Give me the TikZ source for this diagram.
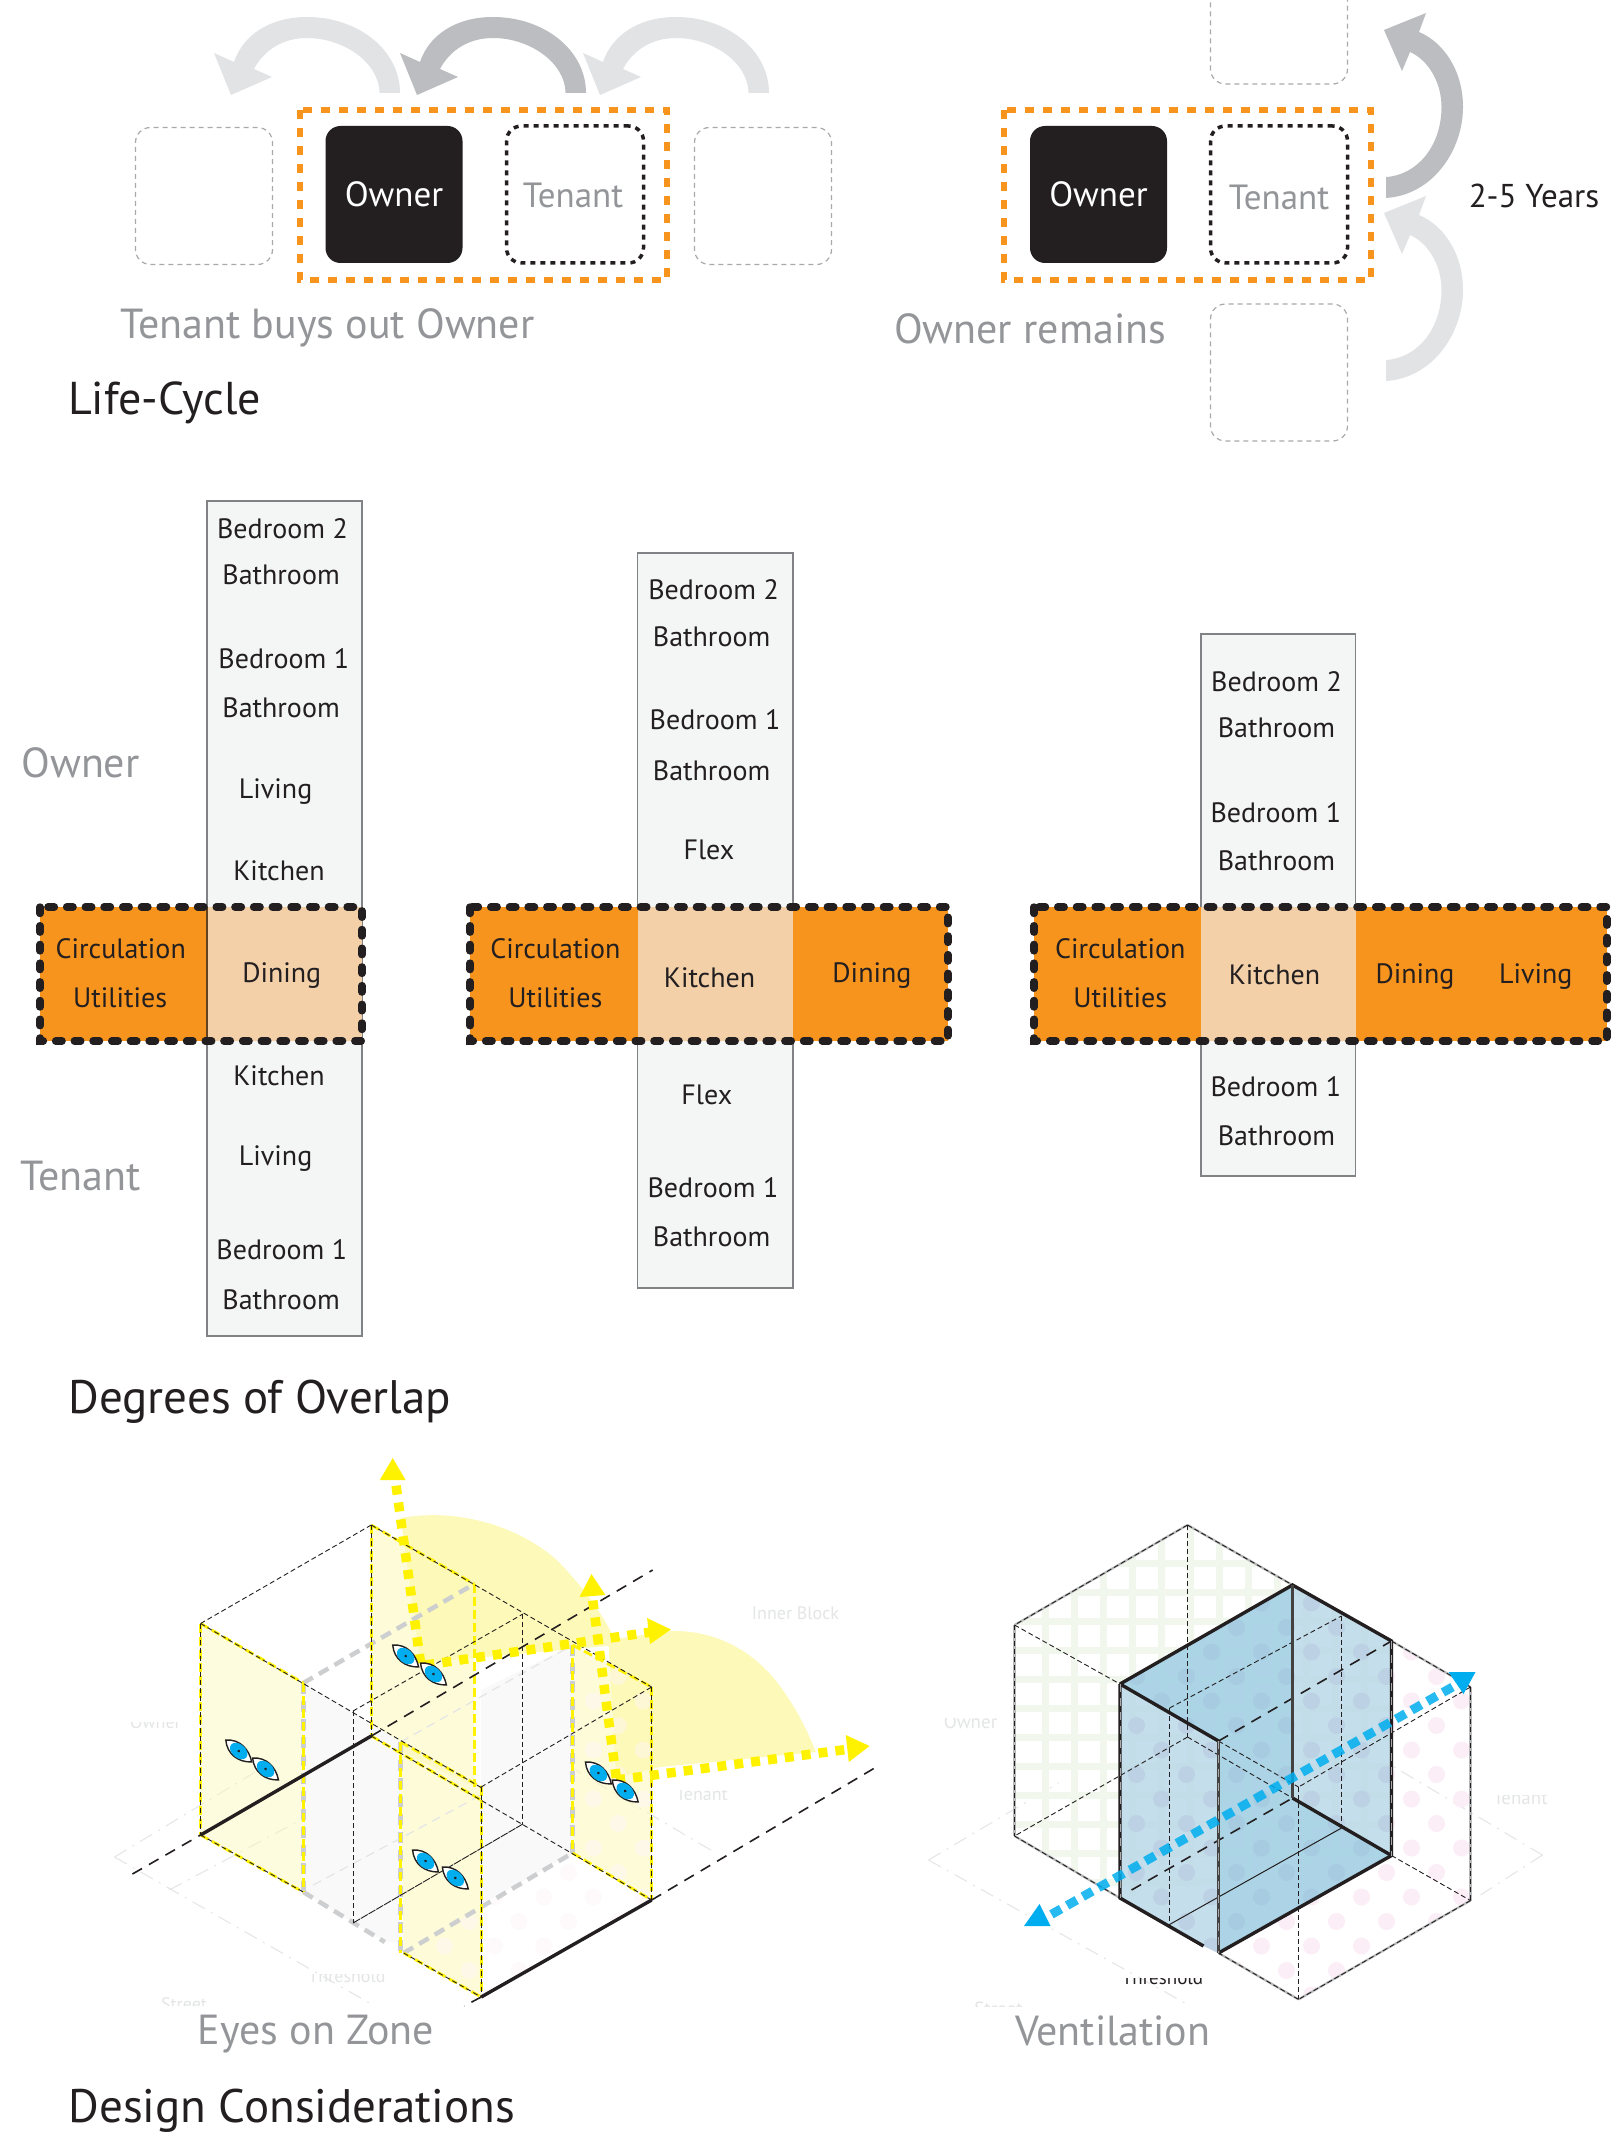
\documentclass[tikz,border=0pt]{standalone}
\usepackage{fontspec}
\setmainfont{PT Sans}
\usetikzlibrary{arrows.meta}
\definecolor{ink}{HTML}{231F20}
\definecolor{midgrey}{HTML}{939598}
\definecolor{ghost}{HTML}{A7A9AC}
\definecolor{orangeA}{HTML}{F7941D}
\definecolor{peach}{HTML}{F3D0A8}
\definecolor{colfill}{HTML}{F4F6F6}
\definecolor{colline}{HTML}{808285}
\definecolor{archA}{HTML}{E2E3E5}
\definecolor{archB}{HTML}{BBBDC0}
\definecolor{viewY}{HTML}{FFF200}
\definecolor{fanY}{HTML}{FDF9B8}
\definecolor{skyB}{HTML}{00AEEF}
\definecolor{gridG}{HTML}{F2F7EE}
\definecolor{dotP}{HTML}{FBEEF6}
\definecolor{dotV}{HTML}{8A8FC0}
\definecolor{blueL}{HTML}{BBD9E8}
\definecolor{blueD}{HTML}{A6D2E5}
\definecolor{wallG}{HTML}{F9F9FA}
\definecolor{faint}{HTML}{E4E5E6}
\newcommand{\fs}[1]{\fontsize{#1}{#1}\selectfont}
\tikzset{
  x=1pt,y=-1pt,
  ownerbox/.style={fill=ink,text=white,rounded corners=15pt,minimum width=137pt,minimum height=137pt,inner sep=0pt,font=\fs{35}},
  tenantbox/.style={draw=ink,line width=3.5pt,dash pattern=on 5pt off 5pt,rounded corners=15pt,text=midgrey,minimum width=137pt,minimum height=137pt,inner sep=0pt,font=\fs{35}},
  ghostbox/.style={draw=ghost,line width=1.2pt,dash pattern=on 5pt off 4pt,rounded corners=15pt,minimum width=137pt,minimum height=137pt,inner sep=0pt},
  orangebox/.style={draw=orangeA,line width=5.2pt,dash pattern=on 9pt off 9pt},
  bandline/.style={draw=ink,line width=7.4pt,line cap=round,dash pattern=on 6.5pt off 12.2pt},
  colbox/.style={fill=colfill,draw=colline,line width=1.6pt},
  room/.style={text=ink,font=\fs{28},inner sep=0pt},
  big/.style={text=midgrey,font=\fs{42},inner sep=0pt},
  head/.style={text=ink,font=\fs{47},inner sep=0pt},
  weak/.style={text=faint,font=\fs{18},inner sep=0pt},
  thin/.style={draw=ink,line width=.9pt,dash pattern=on 5pt off 3pt},
  ydash/.style={draw=viewY,line width=2.8pt,dash pattern=on 9pt off 4pt},
  gdash/.style={draw=faint!90!black,line width=4.5pt,dash pattern=on 11pt off 7pt},
  lgdash/.style={draw=faint,line width=1.2pt,dash pattern=on 9pt off 6pt},
  ldash/.style={draw=ink,line width=1.6pt,dash pattern=on 11pt off 8pt},
  ground/.style={draw=faint,line width=1pt,dash pattern=on 14pt off 7pt on 2pt off 7pt},
  thick3/.style={draw=ink,line width=3.4pt},
  sight/.style={draw=viewY,line width=9.5pt,dash pattern=on 9pt off 8pt},
  vent/.style={draw=skyB,line width=9pt,dash pattern=on 11pt off 7pt},
  ghostedge/.style={draw=faint!80!black,line width=2.2pt},
  inlay/.style={draw=ghost,line width=1pt,dash pattern=on 8pt off 6pt},
}
\newcommand{\archarrow}[2]{%
  \fill[#1,xshift=#2pt] (402,93) .. controls (402,50) and (360,17) .. (309,17) .. controls (272,17) and (245,35) .. (236,62) -- (216,53) -- (233,95) -- (274,77) -- (256,69) .. controls (266,50) and (285,38) .. (309,38) .. controls (345,38) and (381,62) .. (381.6,93) -- cycle;}
\newcommand{\uparrowshape}[2]{%
  \fill[#1,yshift=-#2pt,xshift=-2pt] (1388,198) .. controls (1435,195) and (1465,150) .. (1465,107) .. controls (1465,70) and (1445,42) .. (1421,32) -- (1428,13) -- (1386,30) -- (1404,71) -- (1412,52) .. controls (1430,60) and (1443.5,82) .. (1443.5,107) .. controls (1443.5,145) and (1420,175) .. (1388,177) -- cycle;}
\newcommand{\eyeat}[2]{%
  \begin{scope}[shift={(#1,#2)},rotate=-40]
    \filldraw[fill=white,draw=ink,line width=1.4pt] (-17,0) .. controls (-7,-10) and (7,-8) .. (17,0) .. controls (7,9) and (-7,10) .. (-17,0) -- cycle;
    \fill[skyB] (0,0) ellipse (10 and 6.8);
    \fill[ink] (0,0) circle (1.5);
  \end{scope}}
\newcommand{\dotfield}[2]{%
  \foreach \i in {0,...,13}{
    \pgfmathsetmacro{\cx}{1138+25*\i+#1}
    \pgfmathsetmacro{\cy}{1701-24.5*mod(\i+1,2)}
    \foreach \k in {-4,...,6}{ \fill[#2] (\cx,\cy+49*\k) circle (8.5); }
  }}
\begin{document}
\begin{tikzpicture}
\useasboundingbox (0,0) rectangle (1621,2140);
\clip (0,0) rectangle (1621,2140);
\fill[white] (0,0) rectangle (1621,2140);

% ---------- Life-cycle
\archarrow{archA}{-2}
\archarrow{archB}{184}
\archarrow{archA}{367}
\uparrowshape{archB}{0}
\uparrowshape{archA}{183}
\node[ghostbox] (g1) at (204,196) {};
\node[ghostbox] (g2) at (763,196) {};
\draw[orangebox] (300,110) rectangle (667,280);
\node[ownerbox] (own1) at (394,194.5) {Owner};
\node[tenantbox] (ten1) at (575,194.5) {};
\node[text=midgrey,font=\fs{35},inner sep=0pt] (tt1) at (573,195) {Tenant};
\node[ghostbox] (g3) at (1279,15.5) {};
\node[ghostbox] (g4) at (1279,372.5) {};
\draw[orangebox] (1004,110) rectangle (1371,280);
\node[ownerbox] (own2) at (1098.5,194.5) {Owner};
\node[tenantbox] (ten2) at (1279,194.5) {};
\node[text=midgrey,font=\fs{35},inner sep=0pt] (tt2) at (1279,197) {Tenant};
\node[text=ink,font=\fs{33},inner sep=0pt] (yrs) at (1534,196) {2-5 Years};
\node[big] (buy) at (327.5,328) {Tenant buys out Owner};
\node[big] (rem) at (1030,329) {Owner remains};
\node[head,anchor=west,font=\fs{46}] (lc) at (68,403) {Life-Cycle};

% ---------- Degrees of overlap: bands
\draw[colbox] (207,501) rectangle (362,1336);
\draw[colbox] (637.5,553) rectangle (793,1288);
\draw[colbox] (1201,634) rectangle (1355.5,1176);
\fill[orangeA] (40,907) rectangle (207,1041);
\fill[peach] (207,907) rectangle (362,1041);
\draw[ink!70!orangeA,line width=1.4pt] (207,907) -- (207,1041);
\fill[orangeA] (470,907) rectangle (948,1041);
\fill[peach] (637.5,907) rectangle (793,1041);
\fill[orangeA] (1034,907) rectangle (1607,1041);
\fill[peach] (1201,907) rectangle (1355.5,1041);
\draw[bandline] (40,907) rectangle (362,1041);
\draw[bandline] (470,907) rectangle (948,1041);
\draw[bandline] (1034,907) rectangle (1607,1041);

\begin{scope}[x=1.3645pt,y=-1.3645pt]
\node[room] (a1) at (207,387.5) {Bedroom 2};
\node[room] (a2) at (206,421) {Bathroom};
\node[room] (a3) at (208,483) {Bedroom 1};
\node[room] (a4) at (206,518.5) {Bathroom};
\node[room] (a5) at (202,580) {Living};
\node[room] (a6) at (204.5,638.5) {Kitchen};
\node[room] (a7) at (88.5,695) {Circulation};
\node[room] (a8) at (88,731.5) {Utilities};
\node[room] (a9) at (206.5,715) {Dining};
\node[room] (a10) at (204.5,788.5) {Kitchen};
\node[room] (a11) at (202,849) {Living};
\node[room] (a12) at (206.5,915.5) {Bedroom 1};
\node[room] (a13) at (206,952.5) {Bathroom};
\node[big] (ownl) at (59,559) {Owner};
\node[big] (tenl) at (59,862) {Tenant};
\node[room] (b1) at (523,432.5) {Bedroom 2};
\node[room] (b2) at (521.5,467) {Bathroom};
\node[room] (b3) at (524,527.5) {Bedroom 1};
\node[room] (b4) at (521.5,564.5) {Bathroom};
\node[room] (b5) at (519.5,622.5) {Flex};
\node[room] (b6) at (407,695) {Circulation};
\node[room] (b7) at (407,731.5) {Utilities};
\node[room] (b8) at (520,716.5) {Kitchen};
\node[room] (b9) at (639,715) {Dining};
\node[room] (b10) at (518,802.5) {Flex};
\node[room] (b11) at (522.5,870.5) {Bedroom 1};
\node[room] (b12) at (521.5,906.5) {Bathroom};
\node[room] (c1) at (935.5,499.5) {Bedroom 2};
\node[room] (c2) at (935.5,533.5) {Bathroom};
\node[room] (c3) at (935,595.5) {Bedroom 1};
\node[room] (c4) at (935.5,630.5) {Bathroom};
\node[room] (c5) at (821,695) {Circulation};
\node[room] (c6) at (821,731.5) {Utilities};
\node[room] (c7) at (934,714.5) {Kitchen};
\node[room] (c8) at (1037,716) {Dining};
\node[room] (c9) at (1125.5,716) {Living};
\node[room] (c10) at (935,796.5) {Bedroom 1};
\node[room] (c11) at (935.5,832.5) {Bathroom};
\node[head,anchor=west] (dg) at (50,1027) {Degrees of Overlap};
\node[big] (ez) at (231.5,1491) {Eyes on Zone};
\node[big] (ve) at (815.5,1488) {Ventilation};
\node[head,anchor=west] (dc) at (50,1547) {Design Considerations};
\end{scope}

% ---------- Eyes on Zone: faint labels, each cut as in the reference
\begin{scope}\clip (100,1722) rectangle (200,1760);\node[weak] (w1) at (155.5,1722) {Owner};\end{scope}
\node[weak] (w2) at (795.5,1613) {Inner Block};
\begin{scope}\clip (660,1790) rectangle (760,1830);\node[weak] (w3) at (702,1794) {Tenant};\end{scope}
\begin{scope}\clip (290,1974) rectangle (400,2010);\node[weak] (w4) at (347,1976) {Threshold};\end{scope}
\begin{scope}\clip (140,1990) rectangle (220,2005);\node[weak] (w5) at (184,2004) {Street};\end{scope}

\begin{scope}[xshift=.3pt,xscale=.9935]
\draw[ground] (115,1857) -- (375,2005);
\draw[ground] (115,1857) -- (260,1770);
\draw[ground] (715,1850) -- (485,1715);
\draw[ground] (170,1890) -- (340,1800);
% view fans
\fill[fanY] (423,1663) -- (403,1518) .. controls (459,1508) and (520,1525) .. (560,1560) .. controls (590,1590) and (610,1620) .. (621,1645) -- cycle;
\fill[fanY] (620,1778) -- (612,1640) -- (674,1631) .. controls (720,1630) and (755,1650) .. (780,1680) .. controls (800,1705) and (812,1730) .. (821,1752) -- (664,1767) -- cycle;
% walls
\fill[fanY,opacity=.45] (201.6,1623.5) -- (305,1683) -- (305,1892) -- (201.6,1835) -- cycle;
\fill[fanY,opacity=.55] (373.4,1525) -- (477,1584) -- (477,1787) -- (373.4,1736) -- cycle;
\fill[wallG] (305,1683) -- (403,1742) -- (403,1942) -- (387,1942) -- (305,1892) -- cycle;
\fill[wallG] (484,1690) -- (576,1645) -- (576,1853) -- (484,1905) -- cycle;
\fill[fanY,opacity=.55] (403,1742) -- (484,1787) -- (484,1997) -- (406,1953) -- cycle;
\fill[fanY,opacity=.55] (576,1645) -- (655.6,1687) -- (655.6,1900) -- (576,1853) -- cycle;
\begin{scope}
 \clip (576,1645) -- (655.6,1687) -- (655.6,1900) -- (484,1997) -- (406,1953) -- (576,1853) -- cycle;
 \dotfield{-816}{dotP!60!white,fill opacity=.45}
\end{scope}
% grey heavy dashes
\draw[gdash] (305,1683) -- (477,1584);
\draw[gdash] (406,1953) -- (576,1853);
\draw[gdash] (305,1892) -- (387,1942);
\draw[gdash] (305,1683) -- (305,1892);
\draw[gdash] (576,1645) -- (576,1853);
\draw[gdash] (403,1742) -- (403,1953);
\draw[lgdash] (403,1742) -- (576,1645);
\draw[lgdash] (315,1885) -- (484,1795);
% yellow wall edges
\draw[ydash] (201.6,1623.5) -- (201.6,1835);
\draw[ydash] (305,1683) -- (305,1892);
\draw[ydash] (373.4,1525) -- (373.4,1736);
\draw[ydash] (477,1584) -- (477,1787);
\draw[ydash] (403,1742) -- (403,1953);
\draw[ydash] (484,1787) -- (484,1997);
\draw[ydash] (576,1645) -- (576,1853);
\draw[ydash] (655.6,1687) -- (655.6,1900);
\draw[ydash] (201.6,1623.5) -- (305,1683);
\draw[ydash] (201.6,1835) -- (305,1892);
\draw[ydash] (373.4,1525) -- (477,1584);
\draw[ydash] (576,1645) -- (655.6,1687);
\draw[ydash] (373.4,1736) -- (484,1800);
\draw[ydash] (403,1742) -- (484,1787);
\draw[ydash] (406,1953) -- (484,1997);
\draw[ydash] (576,1853) -- (655.6,1900);
% thin black
\draw[thin] (373.4,1525) -- (201.6,1623.5);
\draw[thin] (373.4,1525) -- (655.6,1687);
\draw[thin] (201.6,1623.5) -- (484,1787.5);
\draw[thin] (484,1787) -- (655.6,1687);
\draw[thin] (355,1711) -- (526,1614);
\draw[thin] (201.6,1623.5) -- (201.6,1835);
\draw[thin] (373.4,1525) -- (373.4,1736);
\draw[thin] (355,1711) -- (355,1923);
\draw[thin] (526,1614) -- (526,1824);
\draw[thin] (484,1787) -- (484,1997);
\draw[thin] (655.6,1687) -- (655.6,1900);
\draw[thin] (373.4,1736) -- (655.6,1900);
\draw[thin] (201.6,1835) -- (305,1892);
\draw[thin] (406,1953) -- (484,1997);
\draw[thin,dash pattern=on 8pt off 1pt] (355,1923) -- (526,1824);
\draw[ldash] (133,1874) -- (201.6,1835);
\draw[ldash] (373.4,1736) -- (656.6,1570);
\draw[ldash] (655.6,1900) -- (880,1768);
\draw[ldash] (484,1997) -- (467,2006);
\draw[thick3] (201.6,1835) -- (373.4,1736);
\draw[thick3] (484,1997) -- (655.6,1900);
% sight lines
\draw[sight] (423,1663) -- (398,1483);
\fill[viewY] (395,1458) -- (382,1480) -- (408,1480) -- cycle;
\draw[sight] (428,1665) -- (655,1632);
\fill[viewY] (675,1629.5) -- (651,1618) -- (654,1644) -- cycle;
\draw[sight] (620,1778) -- (596,1598);
\fill[viewY] (595,1574) -- (583,1597) -- (609,1595) -- cycle;
\draw[sight] (620,1780) -- (855,1749);
\fill[viewY] (875,1746) -- (851,1735) -- (854,1762) -- cycle;
% eyes
\eyeat{408}{1656}\eyeat{436}{1674}
\eyeat{240}{1751}\eyeat{267}{1769}
\eyeat{428}{1861}\eyeat{458}{1878}
\eyeat{602}{1773}\eyeat{629}{1791}
\end{scope}

% ---------- Ventilation
\begin{scope}[xshift=-1.5pt]
\draw[ground] (930,1860) -- (1190,2005);
\draw[ground] (930,1860) -- (1060,1783);
\draw[ground] (1544,1855) -- (1394,1766);
\draw[ground] (1544,1855) -- (1482,1895);
\begin{scope}\clip (930,1718) rectangle (1010,1760);\node[weak,font=\fs{19}] (v1) at (972,1722) {Owner};\end{scope}
\begin{scope}\clip (1480,1795) rectangle (1570,1830);\node[weak,font=\fs{19}] (v2) at (1522,1798) {Tenant};\end{scope}
\begin{scope}\clip (1100,1978) rectangle (1230,2010);\node[text=ink,font=\fs{19},inner sep=0pt] (v3) at (1164,1978) {Threshold};\end{scope}
\begin{scope}\clip (960,1995) rectangle (1040,2006);\node[weak,font=\fs{19}] (v4) at (1000,2009) {Street};\end{scope}
% grid
\begin{scope}
 \clip (1189,1525) -- (1393,1641) -- (1393,1855) -- (1121.5,1898) -- (1016,1836) -- (1016,1625) -- cycle;
 \foreach \gx in {0,...,12}{ \fill[gridG] (1043+29*\gx,1500) rectangle (1050.5+29*\gx,1900); }
 \foreach \gy in {0,...,11}{ \fill[gridG] (1000,1560+29*\gy) rectangle (1420,1567+29*\gy); }
\end{scope}
% dots
\begin{scope}
 \clip (1294,1585) -- (1472,1687) -- (1472,1900.5) -- (1300,1999.4) -- (1121.5,1898) -- (1121.5,1684) -- cycle;
 \dotfield{0}{dotP}
\end{scope}
% blue volume
\fill[blueL,opacity=.85] (1121.5,1684) -- (1294,1585) -- (1393,1641) -- (1393,1855.5) -- (1220,1953) -- (1205,1946) -- (1121.5,1898) -- cycle;
\fill[blueD,opacity=.8] (1121.5,1684) -- (1294,1585) -- (1294,1798) -- (1393,1855.5) -- (1220,1953) -- (1220,1741) -- cycle;
\begin{scope}
 \clip (1121.5,1684) -- (1294,1585) -- (1393,1641) -- (1393,1855.5) -- (1220,1953) -- (1205,1946) -- (1121.5,1898) -- cycle;
 \dotfield{0}{dotV,fill opacity=.13}
\end{scope}
% frame
\draw[ghostedge] (1189,1525) -- (1016,1625);
\draw[ghostedge] (1189,1525) -- (1294,1585);
\draw[ghostedge] (1016,1625) -- (1016,1836);
\draw[ghostedge] (1016,1836) -- (1121.5,1898);
\draw[ghostedge] (1393,1641) -- (1472,1687);
\draw[ghostedge] (1472,1687) -- (1472,1900.5);
\draw[ghostedge] (1472,1900.5) -- (1300,1999.4);
\draw[ghostedge] (1300,1999.4) -- (1220,1953);
\draw[thin] (1189,1525) -- (1016,1625);
\draw[thin] (1189,1525) -- (1294,1585);
\draw[thin] (1016,1625) -- (1016,1836);
\draw[thin] (1016,1836) -- (1121.5,1898);
\draw[thin] (1393,1641) -- (1472,1687);
\draw[thin] (1472,1687) -- (1472,1900.5);
\draw[thin] (1472,1900.5) -- (1300,1999.4);
\draw[thin] (1300,1999.4) -- (1220,1953);
\draw[thin] (1016,1625) -- (1121.5,1684);
\draw[thin] (1189,1525) -- (1189,1737);
\draw[thin] (1189,1737) -- (1016,1836);
\draw[thin] (1189,1737) -- (1294,1798);
\draw[thin] (1220,1741) -- (1300,1787);
\draw[thin] (1472,1687) -- (1300,1787);
\draw[thin] (1300,1787) -- (1300,1999.4);
\draw[thin] (1171,1708) -- (1343,1616);
\draw[thin] (1171,1708) -- (1171,1924.5);
\draw[thin] (1343,1616) -- (1343,1828);
\draw[thin] (1393,1855.5) -- (1472,1900.5);
\draw[ink,line width=1pt] (1171,1924.5) -- (1343,1828);
\draw[ldash] (1220,1741) -- (1393,1641);
\draw[ldash] (1133,1890) -- (1294,1798);
\draw[thick3] (1121.5,1684) -- (1294,1585) -- (1393,1641) -- (1393,1855.5) -- (1220,1953);
\draw[thick3] (1393,1855.5) -- (1294,1798);
\draw[thick3] (1121.5,1684) -- (1220,1741);
\draw[thick3] (1121.5,1684) -- (1121.5,1898) -- (1205,1946);
\draw[draw=ink!85,line width=3pt] (1220,1741) -- (1220,1953);
\draw[draw=ink!85,line width=3pt] (1294,1585) -- (1294,1798);
\draw[inlay] (1121.5,1684) -- (1121.5,1898);
\draw[inlay] (1393,1641) -- (1393,1855.5);
\draw[inlay] (1220,1741) -- (1220,1953);
% vent arrow
\begin{scope}[opacity=.85]
\draw[vent] (1454,1687) -- (1050,1916);
\end{scope}
\fill[skyB] (1450,1672) -- (1477,1672) -- (1465,1694) -- cycle;
\fill[skyB] (1041,1904) -- (1025.5,1926) -- (1052,1926) -- cycle;
\end{scope}
\end{tikzpicture}
\end{document}
